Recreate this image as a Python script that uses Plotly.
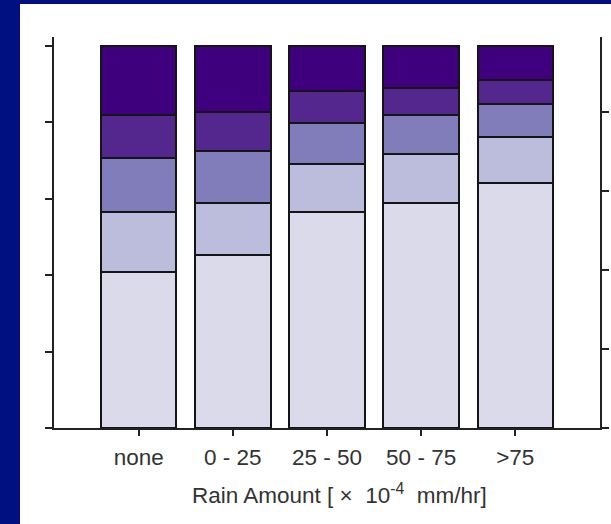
import plotly.graph_objects as go

categories = ["none", "0 - 25", "25 - 50", "50 - 75", ">75"]

# fractions per stacked segment (bottom to top)
seg1 = [0.408, 0.452, 0.565, 0.589, 0.641]
seg2 = [0.157, 0.137, 0.125, 0.128, 0.121]
seg3 = [0.142, 0.135, 0.108, 0.102, 0.085]
seg4 = [0.112, 0.103, 0.083, 0.071, 0.063]
seg5 = [0.181, 0.173, 0.119, 0.110, 0.090]

series = [seg1, seg2, seg3, seg4, seg5]
series_names = ["Level 1", "Level 2", "Level 3", "Level 4", "Level 5"]
colors = ["#dadaeb", "#bcbddc", "#807dba", "#54278f", "#3f007d"]

left_ticks = [0, 0.2, 0.4, 0.6, 0.8, 1.0]
right_ticks = [0, 1, 2, 3, 4]

x_title = "Rain Amount [\u00a0×\u00a0\u00a010<sup>-4</sup>\u00a0\u00a0mm/hr]"

AX = "#222222"
fig = go.Figure()
for vals, name, col in zip(series, series_names, colors):
    fig.add_trace(go.Bar(
        x=categories, y=vals, name=name, width=0.8,
        marker=dict(color=col, line=dict(color="#151515", width=2)),
        showlegend=False,
    ))
fig.add_trace(go.Scatter(x=[], y=[], yaxis="y2", showlegend=False))

fig.update_layout(
    width=611, height=524,
    margin=dict(l=54, r=11, t=37, b=96, autoexpand=False),
    paper_bgcolor="white", plot_bgcolor="white",
    barmode="stack",
    font=dict(family="Liberation Sans, Arial, sans-serif", color="#333333"),
    xaxis=dict(
        type="category", range=[-0.9, 4.9], automargin=False,
        showline=True, linecolor=AX, linewidth=2,
        ticks="outside", ticklen=6, tickwidth=2, tickcolor=AX,
        tickfont=dict(size=22.5, color="#333333"), ticklabelstandoff=2,
        showgrid=False, zeroline=False,
    ),
    yaxis=dict(
        range=[0, 1.0236], tickvals=left_ticks, showticklabels=False,
        automargin=False,
        showline=True, linecolor=AX, linewidth=2,
        ticks="outside", ticklen=7, tickwidth=2, tickcolor=AX,
        showgrid=False, zeroline=False,
    ),
    yaxis2=dict(
        overlaying="y", side="right", range=[0, 4.955], tickvals=right_ticks,
        showticklabels=False, automargin=False,
        showline=True, linecolor=AX, linewidth=2,
        ticks="outside", ticklen=7, tickwidth=2, tickcolor=AX,
        showgrid=False, zeroline=False,
    ),
    annotations=[
        dict(text=x_title, xref="paper", yref="paper",
             x=(339 - 54) / 546, y=(428 - 494) / 391,
             xanchor="center", yanchor="middle", showarrow=False,
             font=dict(size=22.5, color="#333333")),
    ],
    shapes=[
        dict(type="rect", xref="paper", yref="paper",
             x0=-54 / 546, x1=-34 / 546, y0=-96 / 391, y1=428 / 391,
             fillcolor="#001080", line=dict(width=0), layer="above"),
        dict(type="rect", xref="paper", yref="paper",
             x0=-54 / 546, x1=557 / 546, y0=1 + 33 / 391, y1=428 / 391,
             fillcolor="#001080", line=dict(width=0), layer="above"),
    ],
)

fig.write_html("out.html")
